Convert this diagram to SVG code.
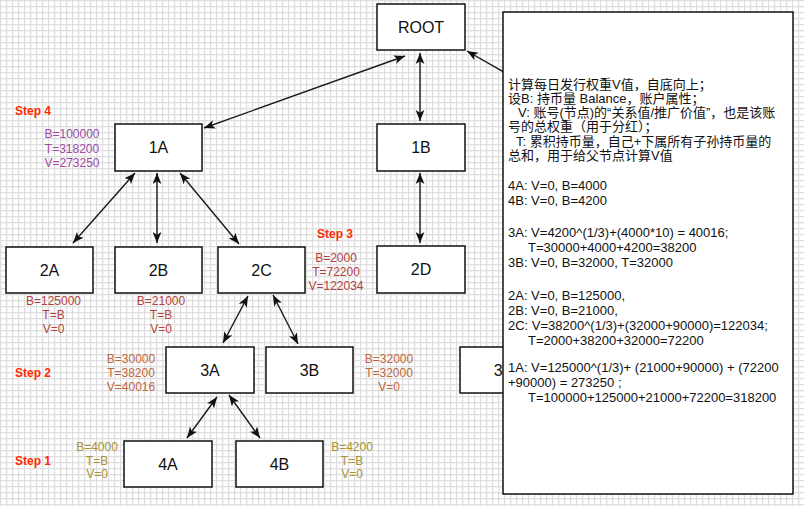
<svg xmlns="http://www.w3.org/2000/svg" width="804" height="506" viewBox="0 0 804 506">
  <defs>
    <pattern id="grid" width="6" height="6" patternUnits="userSpaceOnUse">
      <rect width="6" height="6" fill="#ffffff"/>
      <path d="M0 0.5H6M0.5 0V6" stroke="#dedede" stroke-width="1.4" fill="none"/>
    </pattern>
    <marker id="arr" viewBox="0 0 10 8" refX="10" refY="4" markerWidth="11" markerHeight="9" markerUnits="userSpaceOnUse" orient="auto-start-reverse">
      <path d="M0,0 L10,4 L0,8 L2.5,4 Z" fill="#111111"/>
    </marker>
  </defs>
  <style>
    .node rect { fill: #ffffff; stroke: #111111; stroke-width: 1.5; }
    .node text { font-family: "Liberation Sans", Arial, sans-serif; font-size: 16px; fill: #111111; text-anchor: middle; }
    .conn line { stroke: #1a1a1a; stroke-width: 1.4; marker-start: url(#arr); marker-end: url(#arr); }
    .lbl { font-family: "Liberation Sans", Arial, sans-serif; font-size: 12px; text-anchor: middle; }
    .step { font-family: "Liberation Sans", Arial, sans-serif; font-size: 12px; font-weight: bold; fill: #ff2a00; }
    .purple { fill: #a04aa6; }
    .dred { fill: #b53f3d; }
    .brown { fill: #c1653c; }
    .olive { fill: #a99230; }
    .panel rect { fill: #ffffff; stroke: #111111; stroke-width: 1.5; }
    .panel text { font-family: "Liberation Sans", "Noto Sans CJK SC", Arial, sans-serif; font-size: 13px; fill: #111111; }
  </style>
  <rect x="0" y="0" width="804" height="506" fill="url(#grid)"/>

  <g id="connectors" class="conn">
    <line x1="204" y1="128" x2="405" y2="56"/>
    <line x1="420" y1="53" x2="420" y2="121"/>
    <line x1="467" y1="51" x2="530" y2="87" style="marker-end:none"/>
    <line x1="420" y1="173" x2="420" y2="243"/>
    <line x1="135" y1="173" x2="73" y2="243"/>
    <line x1="157" y1="173" x2="157" y2="243"/>
    <line x1="180" y1="173" x2="239" y2="244"/>
    <line x1="248" y1="296" x2="223" y2="343"/>
    <line x1="273" y1="295" x2="298" y2="344"/>
    <line x1="217" y1="397" x2="187" y2="438"/>
    <line x1="229" y1="395" x2="260" y2="438"/>
  </g>

  <g id="ROOT" class="node"><rect x="377" y="4" width="88" height="46"/><text x="421" y="33">ROOT</text></g>
  <g id="n1A" class="node"><rect x="115" y="124" width="87" height="47"/><text x="158.5" y="153">1A</text></g>
  <g id="n1B" class="node"><rect x="377" y="124" width="88" height="47"/><text x="421" y="153">1B</text></g>
  <g id="n2A" class="node"><rect x="6" y="247" width="87" height="46"/><text x="49.5" y="276">2A</text></g>
  <g id="n2B" class="node"><rect x="115" y="247" width="87" height="46"/><text x="158.5" y="276">2B</text></g>
  <g id="n2C" class="node"><rect x="218" y="247" width="87" height="46"/><text x="261.5" y="276">2C</text></g>
  <g id="n2D" class="node"><rect x="377" y="246" width="88" height="47"/><text x="421" y="275">2D</text></g>
  <g id="n3A" class="node"><rect x="166" y="347" width="88" height="46"/><text x="210" y="376">3A</text></g>
  <g id="n3B" class="node"><rect x="266" y="347" width="87" height="46"/><text x="309.5" y="376">3B</text></g>
  <g id="n3C" class="node"><rect x="460" y="347" width="88" height="46"/><text x="493.8" y="376" style="text-anchor:start">3</text></g>
  <g id="n4A" class="node"><rect x="124" y="441" width="88" height="46"/><text x="168" y="470">4A</text></g>
  <g id="n4B" class="node"><rect x="236" y="441" width="87" height="46"/><text x="279.5" y="470">4B</text></g>

  <g id="steps">
    <text class="step" x="15" y="115">Step 4</text>
    <text class="step" x="317" y="238">Step 3</text>
    <text class="step" x="15" y="377">Step 2</text>
    <text class="step" x="15" y="465">Step 1</text>
  </g>

  <g id="labels">
    <text class="lbl purple"><tspan x="72" y="138">B=100000</tspan><tspan x="72" y="152.5">T=318200</tspan><tspan x="72" y="167">V=273250</tspan></text>
    <text class="lbl dred"><tspan x="53.5" y="305">B=125000</tspan><tspan x="53.5" y="319">T=B</tspan><tspan x="53.5" y="333">V=0</tspan></text>
    <text class="lbl dred"><tspan x="161" y="305">B=21000</tspan><tspan x="161" y="319">T=B</tspan><tspan x="161" y="333">V=0</tspan></text>
    <text class="lbl dred"><tspan x="336" y="262">B=2000</tspan><tspan x="336" y="276">T=72200</tspan><tspan x="336" y="290">V=122034</tspan></text>
    <text class="lbl brown"><tspan x="131" y="363">B=30000</tspan><tspan x="131" y="377">T=38200</tspan><tspan x="131" y="391">V=40016</tspan></text>
    <text class="lbl brown"><tspan x="389" y="363">B=32000</tspan><tspan x="389" y="377">T=32000</tspan><tspan x="389" y="391">V=0</tspan></text>
    <text class="lbl olive"><tspan x="97" y="451">B=4000</tspan><tspan x="97" y="465">T=B</tspan><tspan x="97" y="478">V=0</tspan></text>
    <text class="lbl olive"><tspan x="352" y="451">B=4200</tspan><tspan x="352" y="465">T=B</tspan><tspan x="352" y="478">V=0</tspan></text>
  </g>

  <g id="panel" class="panel">
    <rect x="503" y="12" width="290" height="482"/>
    <text>
      <tspan x="508" y="88.5">计算每日发行权重V值，自底向上；</tspan>
      <tspan x="508" y="102.8">设B: 持币量 Balance，账户属性；</tspan>
      <tspan x="518" y="117.1">V: 账号(节点)的“关系值/推广价值”，也是该账</tspan>
      <tspan x="508" y="131.4">号的总权重（用于分红）；</tspan>
      <tspan x="516" y="145.7">T: 累积持币量，自己+下属所有子孙持币量的</tspan>
      <tspan x="508" y="160">总和，用于给父节点计算V值</tspan>
      <tspan x="508" y="189.5">4A: V=0, B=4000</tspan>
      <tspan x="508" y="204.5">4B: V=0, B=4200</tspan>
      <tspan x="508" y="236.5">3A: V=4200^(1/3)+(4000*10) = 40016;</tspan>
      <tspan x="528" y="251.5">T=30000+4000+4200=38200</tspan>
      <tspan x="508" y="266.5">3B: V=0, B=32000, T=32000</tspan>
      <tspan x="508" y="299.5">2A: V=0, B=125000,</tspan>
      <tspan x="508" y="314.5">2B: V=0, B=21000,</tspan>
      <tspan x="508" y="329.5">2C: V=38200^(1/3)+(32000+90000)=122034;</tspan>
      <tspan x="528" y="344.5">T=2000+38200+32000=72200</tspan>
      <tspan x="508" y="372">1A: V=125000^(1/3)+ (21000+90000) + (72200</tspan>
      <tspan x="508" y="386.5">+90000) = 273250 ;</tspan>
      <tspan x="528" y="401.5">T=100000+125000+21000+72200=318200</tspan>
    </text>
  </g>
</svg>
